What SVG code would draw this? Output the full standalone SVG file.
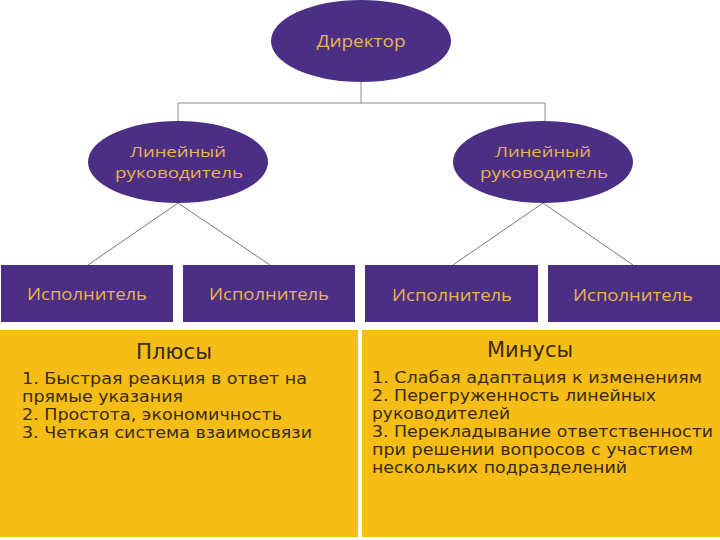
<svg xmlns="http://www.w3.org/2000/svg" width="720" height="540" viewBox="0 0 720 540">
<style>
.node{fill:#4b2f84}
.nt{font-family:"Open Sans","Liberation Sans",sans-serif;font-size:16px;fill:#e9b44c;text-anchor:middle}
.mt{font-size:15px}
.box{fill:#f5bd16}
.hd{font-family:"DejaVu Sans","Liberation Sans",sans-serif;font-size:21px;fill:#3a2a12;text-anchor:middle}
.li{font-family:"DejaVu Sans","Liberation Sans",sans-serif;font-size:16px;fill:#3a2a12}
.c{stroke:#8a8a8a;stroke-width:1;fill:none}
.d{stroke:#555;stroke-width:0.8;fill:none}
</style>
<rect width="720" height="540" fill="#ffffff"/>
<g id="connectors">
<path class="c" d="M361 82V103M178 103H545M178 103V121M545 103V121"/>
<path class="d" d="M178 203L88 265M178 203L270 265M543 203L453 265M543 203L633 265"/>
</g>
<g id="director">
<ellipse class="node" cx="361" cy="41" rx="90" ry="41"/>
<text class="nt" x="361" y="47" font-size="17" textLength="89" lengthAdjust="spacingAndGlyphs">Директор</text>
</g>
<g id="manager1">
<ellipse class="node" cx="178" cy="162" rx="90" ry="41"/>
<text class="nt mt" x="178" y="157" textLength="96" lengthAdjust="spacingAndGlyphs">Линейный</text>
<text class="nt mt" x="179" y="178" textLength="128" lengthAdjust="spacingAndGlyphs">руководитель</text>
</g>
<g id="manager2">
<ellipse class="node" cx="543" cy="162" rx="90" ry="41"/>
<text class="nt mt" x="543" y="157" textLength="96" lengthAdjust="spacingAndGlyphs">Линейный</text>
<text class="nt mt" x="544" y="178" textLength="128" lengthAdjust="spacingAndGlyphs">руководитель</text>
</g>
<g id="exec1">
<rect class="node" x="1" y="265" width="172" height="57"/>
<text class="nt" x="87" y="300" textLength="120" lengthAdjust="spacingAndGlyphs">Исполнитель</text>
</g>
<g id="exec2">
<rect class="node" x="183" y="265" width="172" height="57"/>
<text class="nt" x="269" y="300" textLength="120" lengthAdjust="spacingAndGlyphs">Исполнитель</text>
</g>
<g id="exec3">
<rect class="node" x="365" y="265" width="173" height="57"/>
<text class="nt" x="452" y="301" textLength="120" lengthAdjust="spacingAndGlyphs">Исполнитель</text>
</g>
<g id="exec4">
<rect class="node" x="548" y="265" width="172" height="57"/>
<text class="nt" x="633" y="301" textLength="120" lengthAdjust="spacingAndGlyphs">Исполнитель</text>
</g>
<g id="plus">
<rect class="box" x="0" y="330" width="358" height="207"/>
<text class="hd" x="174" y="359" textLength="76" lengthAdjust="spacingAndGlyphs">Плюсы</text>
<text class="li" x="22" y="384" textLength="285" lengthAdjust="spacingAndGlyphs">1. Быстрая реакция в ответ на</text>
<text class="li" x="22" y="402" textLength="161" lengthAdjust="spacingAndGlyphs">прямые указания</text>
<text class="li" x="22" y="420" textLength="260" lengthAdjust="spacingAndGlyphs">2. Простота, экономичность</text>
<text class="li" x="22" y="438" textLength="290" lengthAdjust="spacingAndGlyphs">3. Четкая система взаимосвязи</text>
</g>
<g id="minus">
<rect class="box" x="362" y="330" width="358" height="207"/>
<text class="hd" x="530" y="357" textLength="86" lengthAdjust="spacingAndGlyphs">Минусы</text>
<text class="li" x="372" y="383" textLength="330" lengthAdjust="spacingAndGlyphs">1. Слабая адаптация к изменениям</text>
<text class="li" x="372" y="401" textLength="284" lengthAdjust="spacingAndGlyphs">2. Перегруженность линейных</text>
<text class="li" x="372" y="419" textLength="138" lengthAdjust="spacingAndGlyphs">руководителей</text>
<text class="li" x="372" y="437" textLength="341" lengthAdjust="spacingAndGlyphs">3. Перекладывание ответственности</text>
<text class="li" x="372" y="455" textLength="321" lengthAdjust="spacingAndGlyphs">при решении вопросов с участием</text>
<text class="li" x="372" y="473" textLength="255" lengthAdjust="spacingAndGlyphs">нескольких подразделений</text>
</g>
</svg>
